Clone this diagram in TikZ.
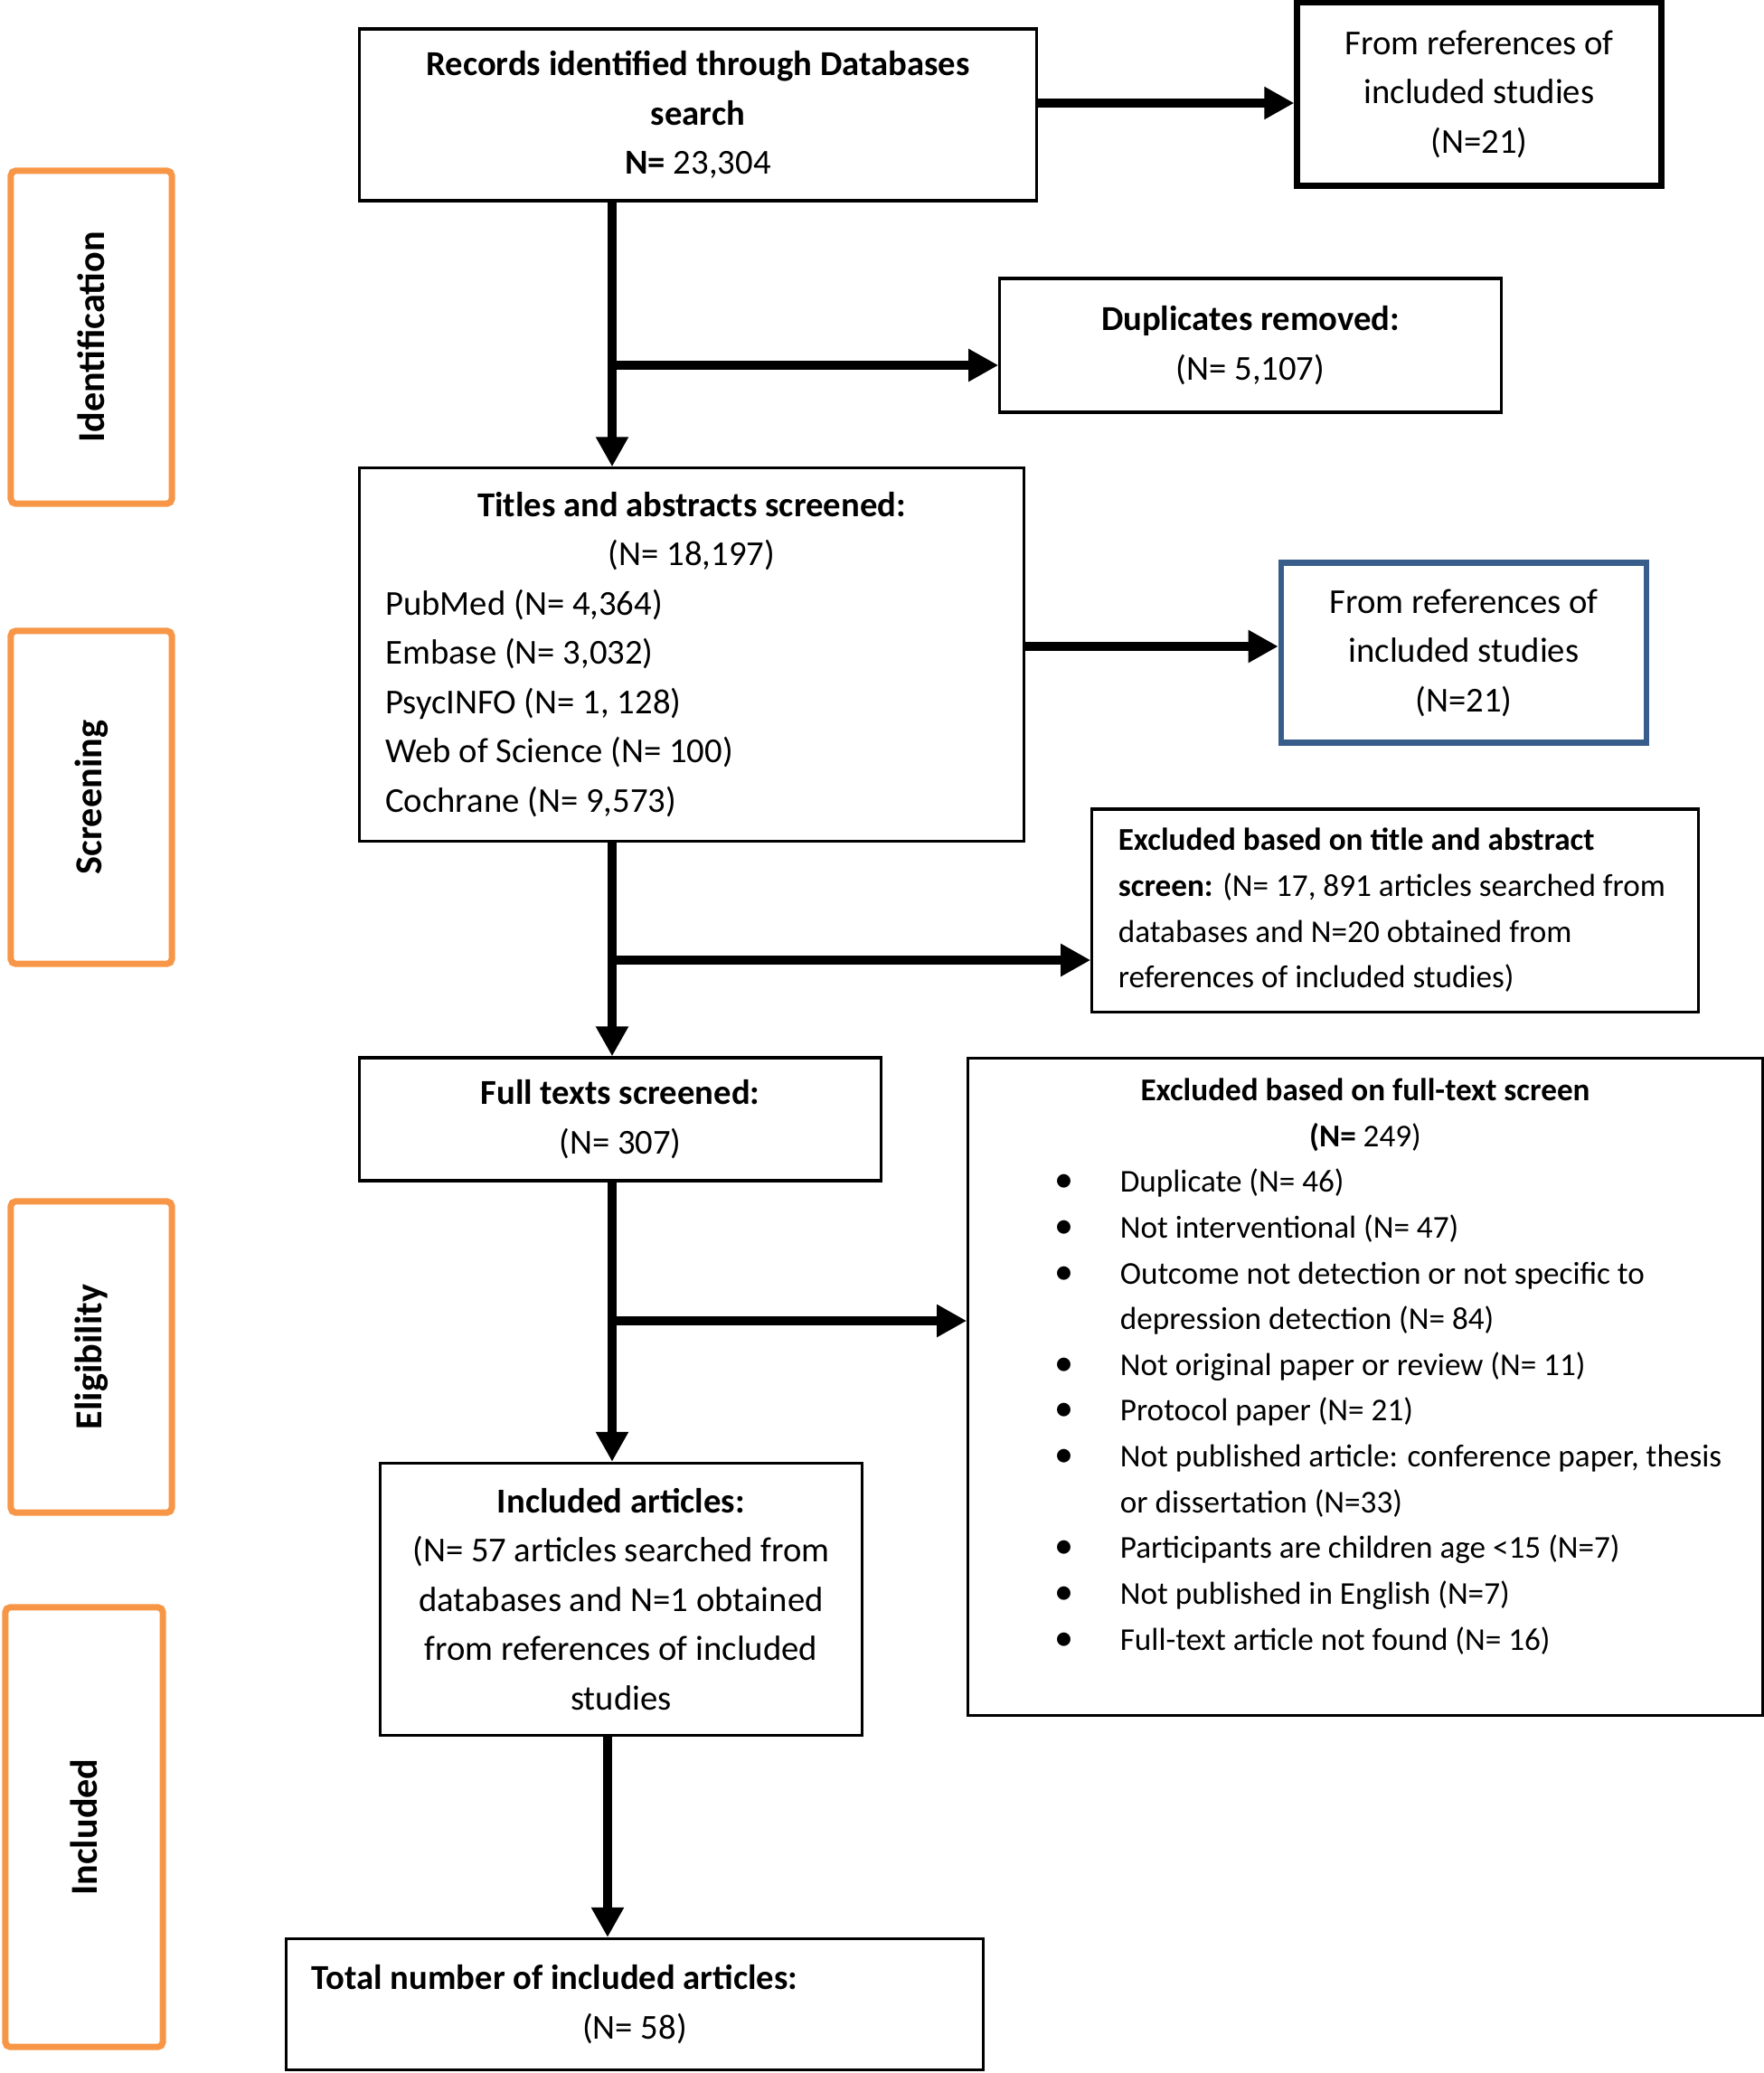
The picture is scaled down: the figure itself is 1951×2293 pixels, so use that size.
\documentclass[tikz,border=0pt]{standalone}
\usepackage{fontspec}
\setmainfont{Carlito}
\usetikzlibrary{arrows.meta}
\definecolor{phaseorange}{RGB}{247,150,70}
\definecolor{refblue}{RGB}{56,93,138}
\newcommand{\bul}{\hspace*{0.72cm}\makebox[0.72cm][l]{\large\textbullet}}
\newcommand{\ind}{\hspace*{1.44cm}}
\newcommand{\ctr}[1]{\makebox[\hsize]{#1}}

\begin{document}
\begin{tikzpicture}[x=0.01cm,y=-0.01cm,
  box/.style={draw,line width=0.9pt,inner sep=0pt,align=center,font=\fontsize{11}{15.5}\selectfont},
  small/.style={font=\fontsize{10}{14.4}\selectfont},
  phase/.style={draw=phaseorange,line width=2pt,rounded corners=1.5pt,inner sep=0pt,
    minimum width=1.78cm,font=\fontsize{12}{14}\selectfont\bfseries},
  arr/.style={line width=2.8pt,-{Triangle[length=0.33cm,width=0.34cm]}}]
  \useasboundingbox (0,0) rectangle (1951,2293);
  % phases on the left
  \node (pid) [phase,minimum height=3.68cm] at (101,373) {\rotatebox{90}{Identification}};
  \node (pscr) [phase,minimum height=3.68cm] at (101,882) {\rotatebox{90}{Screening}};
  \node (pel) [phase,minimum height=3.44cm] at (101,1501) {\rotatebox{90}{Eligibility}};
  \node (pinc) [phase,minimum width=1.74cm,minimum height=4.86cm] at (93,2021) {\rotatebox{90}{Included}};
  % main column
  \node (rec) [box,minimum width=7.49cm,minimum height=1.90cm] at (772,127)
    {\textbf{Records identified through Databases}\\ \textbf{search}\\ \textbf{N=} 23,304};
  \node (tit) [box,minimum width=7.35cm,minimum height=4.12cm] at (765,724)
    {\parbox{6.77cm}{\raggedright
     \ctr{\textbf{Titles and abstracts screened:}}\\
     \ctr{(N= 18,197)}\\
     PubMed (N= 4,364)\\ Embase (N= 3,032)\\ PsycINFO (N= 1, 128)\\
     Web of Science (N= 100)\\ Cochrane (N= 9,573)}};
  \node (ful) [box,minimum width=5.77cm,minimum height=1.36cm] at (686,1238)
    {\textbf{Full texts screened:}\\ (N= 307)};
  \node (inc) [box,minimum width=5.33cm,minimum height=3.01cm] at (687,1769)
    {\textbf{Included articles:}\\ (N= 57 articles searched from\\ databases and N=1 obtained\\
     from references of included\\ studies};
  \node (tot) [box,minimum width=7.70cm,minimum height=1.45cm] at (702,2217)
    {\parbox{7.14cm}{\raggedright
     \textbf{Total number of included articles:}\\ \ctr{(N= 58)}}};
  % side boxes
  \node (ref1) [box,line width=2pt,minimum width=4.02cm,minimum height=2.03cm] at (1636,104)
    {From references of\\ included studies\\ (N=21)};
  \node (dup) [box,minimum width=5.54cm,minimum height=1.48cm] at (1383,382)
    {\textbf{Duplicates removed:}\\ (N= 5,107)};
  \node (ref2) [box,draw=refblue,line width=1.8pt,minimum width=4.04cm,minimum height=1.99cm] at (1619,722)
    {From references of\\ included studies\\ (N=21)};
  \node (exc1) [box,small,minimum width=6.70cm,minimum height=2.24cm] at (1543,1007)
    {\parbox{6.12cm}{\raggedright
     \textbf{Excluded based on title and abstract}\\
     \textbf{screen:} (N= 17, 891 articles searched from\\
     databases and N=20 obtained from\\ references of included studies)}};
  \node (exc2) [box,small,minimum width=8.78cm,minimum height=7.26cm] at (1510,1534)
    {\parbox{8.3cm}{\raggedright
     \ctr{\textbf{Excluded based on full-text screen}}\\
     \ctr{\textbf{(N=} 249)}\\
     \bul Duplicate (N= 46)\\
     \bul Not interventional (N= 47)\\
     \bul Outcome not detection or not specific to\\
     \ind depression detection (N= 84)\\
     \bul Not original paper or review (N= 11)\\
     \bul Protocol paper (N= 21)\\
     \bul Not published article: conference paper, thesis\\
     \ind or dissertation (N=33)\\
     \bul Participants are children age <15 (N=7)\\
     \bul Not published in English (N=7)\\
     \bul Full-text article not found (N= 16)\rule[-0.5cm]{0pt}{0pt}}};
  % branch points on the spine
  \coordinate (s1) at (677,404);
  \coordinate (s2) at (677,1062);
  \coordinate (s3) at (677,1461);
  \coordinate (s4) at (672,1950);
  % connectors
  \draw[arr] ([yshift=0.13cm]rec.east) -- ([yshift=0.13cm]rec.east -| ref1.west);
  \draw[arr] (rec.south -| s1) -- (tit.north -| s1);
  \draw[arr] (s1) -- (s1 -| dup.west);
  \draw[arr] ([yshift=0.09cm]tit.east) -- ([yshift=0.09cm]tit.east -| ref2.west);
  \draw[arr] (tit.south -| s2) -- (ful.north -| s2);
  \draw[arr] (s2) -- (s2 -| exc1.west);
  \draw[arr] (ful.south -| s3) -- (inc.north -| s3);
  \draw[arr] (s3) -- (s3 -| exc2.west);
  \draw[arr] (inc.south -| s4) -- (tot.north -| s4);
\end{tikzpicture}
\end{document}
